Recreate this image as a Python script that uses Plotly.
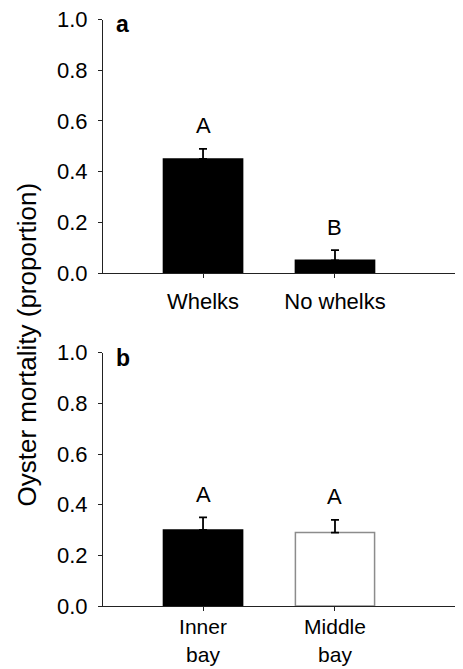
import plotly.graph_objects as go

# ---- data ----
a_categories = ["Whelks", "No whelks"]
a_means = [0.45, 0.05]
a_se = [0.04, 0.04]
a_letters = ["A", "B"]
a_colors = ["black", "black"]
a_lines = ["black", "black"]

b_categories = ["Inner<br>bay", "Middle<br>bay"]
b_means = [0.30, 0.29]
b_se = [0.05, 0.05]
b_letters = ["A", "A"]
b_colors = ["black", "white"]
b_lines = ["black", "#8c8c8c"]

y_tickvals = [0.0, 0.2, 0.4, 0.6, 0.8, 1.0]
y_ticktext = ["0.0", "0.2", "0.4", "0.6", "0.8", "1.0"]
y_title = "Oyster mortality (proportion)"
panel_labels = ["a", "b"]

FONT = "Liberation Sans, Arial, sans-serif"
OFF = 8                      # page body margin
W, H = 463 - OFF, 669 - OFF  # figure size so it fills the window
AX = "#222222"

def px_x(sx):
    return (sx - OFF) / W

def px_y(sy):
    return 1 - (sy - OFF) / H

fig = go.Figure()

def add_panel(cats, means, se, colors, lines, xa, ya):
    fig.add_trace(go.Bar(
        x=cats, y=means, xaxis=xa, yaxis=ya, width=0.6,
        marker=dict(color=colors, line=dict(color=lines, width=1.5)),
        error_y=dict(type="data", array=se, symmetric=False, arrayminus=[0] * len(se),
                     color="black", thickness=1.8, width=4),
        showlegend=False,
    ))

add_panel(a_categories, a_means, a_se, a_colors, a_lines, "x", "y")
add_panel(b_categories, b_means, b_se, b_colors, b_lines, "x2", "y2")

xdom = [px_x(103), 1.0]
ydom_a = [px_y(273), px_y(19.5)]
ydom_b = [px_y(606), px_y(352.7)]

xcommon = dict(domain=xdom, range=[-0.758, 1.97], showline=True, linecolor=AX, linewidth=1.2,
               ticks="outside", ticklen=4, tickcolor=AX, tickwidth=1.2, showgrid=False,
               zeroline=False, automargin=False, ticklabeloverflow="allow")
ycommon = dict(range=[0, 1.0], tickvals=y_tickvals, ticktext=y_ticktext, showline=True,
               linecolor=AX, linewidth=1.2, ticks="outside", ticklen=4, tickcolor=AX,
               tickwidth=1.2, showgrid=False, zeroline=False, automargin=False,
               ticklabeloverflow="allow",
               tickfont=dict(family=FONT, size=22, color="black"), ticklabelstandoff=6)

fig.update_layout(
    width=W, height=H, margin=dict(l=0, r=0, t=0, b=0),
    paper_bgcolor="white", plot_bgcolor="white", bargap=0.4,
    xaxis=dict(**xcommon, anchor="y", ticklabelstandoff=4,
               tickfont=dict(family=FONT, size=22, color="black")),
    yaxis=dict(**ycommon, domain=ydom_a, anchor="x"),
    xaxis2=dict(**xcommon, anchor="y2", ticklabelstandoff=-2,
                tickfont=dict(family=FONT, size=21, color="black")),
    yaxis2=dict(**ycommon, domain=ydom_b, anchor="x2"),
)

annotations = []
for cats, means, se, letters, xr, yr in [
    (a_categories, a_means, a_se, a_letters, "x", "y"),
    (b_categories, b_means, b_se, b_letters, "x2", "y2"),
]:
    for c, m, s, L in zip(cats, means, se, letters):
        annotations.append(dict(x=c, y=m + s, xref=xr, yref=yr, text=L, showarrow=False,
                                yanchor="middle", yshift=23,
                                font=dict(family=FONT, size=22, color="black")))

annotations.append(dict(x=px_x(26.5), y=px_y(345), xref="paper", yref="paper", text=y_title,
                        textangle=-90, showarrow=False, xanchor="center", yanchor="middle",
                        font=dict(family=FONT, size=26, color="black")))
for lab, sy in zip(panel_labels, [24.4, 358.4]):
    annotations.append(dict(x=px_x(114), y=px_y(sy), xref="paper", yref="paper",
                            text="<b>" + lab + "</b>", showarrow=False,
                            xanchor="left", yanchor="middle",
                            font=dict(family=FONT, size=23, color="black")))
fig.update_layout(annotations=annotations)

fig.write_html("out.html")
